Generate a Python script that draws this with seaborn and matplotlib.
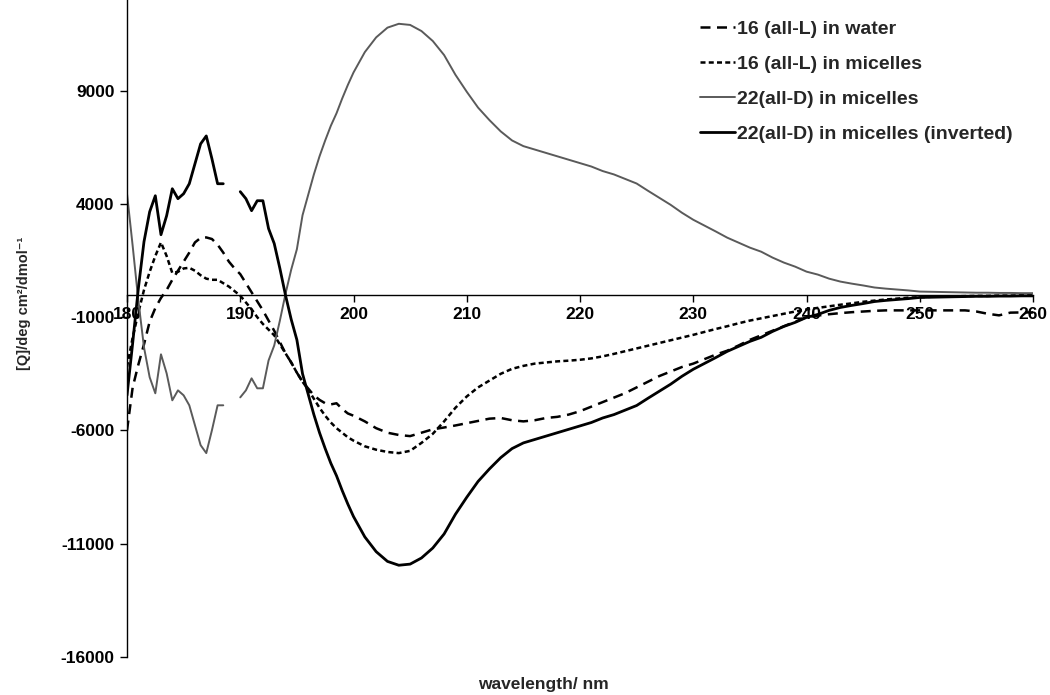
import numpy as np
import pandas as pd
import matplotlib
matplotlib.use("Agg")
import matplotlib.pyplot as plt
from matplotlib.lines import Line2D
import seaborn as sns

# ---------------- data ----------------
wavelength = list(np.arange(180.0, 200.0, 0.5)) + list(np.arange(200.0, 261.0, 1.0))

water_16 = [
    -6000, -4100, -3100, -2200, -1200, -600, -150, 200, 650, 1050,
    1450, 1850, 2300, 2500, 2520, 2450, 2200, 1850, 1450, 1150,
    900, 500, 100, -300, -700, -1150, -1600, -2100, -2600, -3000,
    -3450, -3850, -4150, -4450, -4650, -4800, -4850, -4800, -5050, -5250,
    -5350, -5600, -5900, -6100, -6200, -6250, -6100, -5950, -5870, -5780,
    -5680, -5580, -5480, -5450, -5550, -5600, -5550, -5450, -5400, -5300,
    -5150, -4950, -4750, -4550, -4350, -4100, -3850, -3600, -3400, -3200,
    -3050, -2850, -2650, -2480, -2250, -2000, -1800, -1600, -1400, -1200,
    -1000, -930, -870, -820, -780, -750, -720, -700, -700, -700,
    -700, -700, -700, -700, -700, -750, -850, -920, -800, -790,
    -790,
]

micelles_16 = [
    -3200, -1900, -800, 200, 1000, 1700, 2300, 1700, 950, 1000,
    1150, 1180, 1050, 850, 700, 650, 650, 500, 350, 150,
    -50, -350, -650, -1000, -1300, -1550, -1800, -2200, -2600, -3000,
    -3450, -3850, -4200, -4600, -5000, -5350, -5650, -5900, -6100, -6300,
    -6450, -6700, -6850, -6950, -7000, -6900, -6550, -6150, -5600, -5000,
    -4500, -4100, -3800, -3500, -3280, -3150, -3050, -3000, -2950, -2920,
    -2880, -2820, -2730, -2620, -2500, -2380, -2260, -2140, -2020, -1900,
    -1780, -1650, -1520, -1400, -1270, -1150, -1050, -950, -850, -750,
    -660, -590, -520, -450, -390, -320, -270, -220, -180, -140,
    -120, -100, -90, -80, -70, -60, -60, -50, -50, -40,
    -40,
]

nan = np.nan
micelles_22D = [
    4450, 2150, -260, -2330, -3650, -4360, -2640, -3480, -4670, -4230,
    -4450, -4890, -5770, -6650, -7000, -5990, -4890, -4890, nan, nan,
    -4540, -4230, -3700, -4140, -4140, -2910, -2250, -1150, 40, 1100,
    2000, 3500, 4400, 5300, 6100, 6800, 7450, 8000, 8650, 9250,
    9800, 10700, 11350, 11780, 11950, 11900, 11630, 11190, 10570, 9700,
    8950, 8250, 7700, 7200, 6800, 6550, 6400, 6250, 6100, 5950,
    5800, 5650, 5450, 5300, 5100, 4900, 4580, 4270, 3960, 3610,
    3300, 3040, 2780, 2510, 2290, 2070, 1890, 1630, 1410, 1230,
    1010, 880, 700, 570, 480, 400, 310, 260, 220, 180,
    130, 120, 110, 100, 90, 80, 80, 70, 70, 60,
    60,
]
# inverted curve is the negative of the 22(all-D) micelle spectrum
micelles_22D_inv = [-v for v in micelles_22D]

labels = ["16 (all-L) in water", "16 (all-L) in micelles",
          "22(all-D) in micelles", "22(all-D) in micelles (inverted)"]

xticks = [180, 190, 200, 210, 220, 230, 240, 250, 260]
yticks = [-16000, -11000, -6000, -1000, 4000, 9000]

# ---------------- styling ----------------
sns.set_style("white")
plt.rcParams["font.family"] = ["Liberation Sans", "DejaVu Sans"]
plt.rcParams["font.weight"] = "bold"

fig = plt.figure(figsize=(10.5, 6.95), dpi=100)
ax = fig.add_axes([127 / 1050, 38 / 695, (1033 - 127) / 1050, 657 / 695])


def make_df(vals):
    df = pd.DataFrame({"wl": wavelength, "val": vals})
    df["seg"] = df["val"].isna().cumsum()
    return df.dropna()


styles = [
    dict(color="black", lw=1.8, dashes=(4.0, 2.6)),
    dict(color="black", lw=1.8, dashes=(2.0, 1.3)),
    dict(color="#5a5a5a", lw=1.4, dashes=None),
    dict(color="black", lw=2.0, dashes=None),
]
series = [water_16, micelles_16, micelles_22D, micelles_22D_inv]

handles = []
for vals, st, lab in zip(series, styles, labels):
    df = make_df(vals)
    for _, g in df.groupby("seg"):
        sns.lineplot(data=g, x="wl", y="val", ax=ax, color=st["color"],
                     linewidth=st["lw"], estimator=None, sort=False,
                     legend=False)
        line = ax.lines[-1]
        if st["dashes"] is not None:
            line.set_dashes(st["dashes"])
    h = Line2D([], [], color=st["color"], lw=st["lw"])
    if st["dashes"] is not None:
        h.set_dashes(st["dashes"])
    handles.append(h)

ax.spines["top"].set_visible(False)
ax.spines["right"].set_visible(False)
ax.spines["bottom"].set_position(("data", 0))
for s in ("left", "bottom"):
    ax.spines[s].set_linewidth(1.0)
    ax.spines[s].set_color("black")

ax.set_xlim(180, 260)
ax.set_ylim(-16000, 13000)
ax.set_xticks(xticks)
ax.set_yticks(yticks)
ax.set_xticklabels([str(t) for t in xticks])
ax.set_yticklabels([str(t) for t in yticks])
ax.tick_params(axis="both", direction="out", length=5, width=1.0,
               color="black", pad=4, bottom=True, left=True,
               labelsize=12.5, labelcolor="black")

ax.set_xlabel("")
ax.set_ylabel("")
fig.text(543 / 1050, 1 - 685 / 695, "wavelength/ nm", ha="center", va="center",
         fontsize=12.5, fontweight="bold")
fig.text(24 / 1050, 1 - 303 / 695, "[Q]/deg cm²/dmol⁻¹", ha="center", va="center",
         rotation=90, fontsize=10.5, fontweight="bold")

leg = ax.legend(handles=handles, labels=labels, loc="upper left",
                bbox_to_anchor=(700 / 1050, 1 - 20 / 695),
                bbox_transform=fig.transFigure, frameon=False,
                prop={"size": 14, "weight": "bold"}, handlelength=1.8,
                handletextpad=0.12, labelspacing=0.9, borderpad=0,
                borderaxespad=0)

fig.savefig("out.png", dpi=100, facecolor="white")
